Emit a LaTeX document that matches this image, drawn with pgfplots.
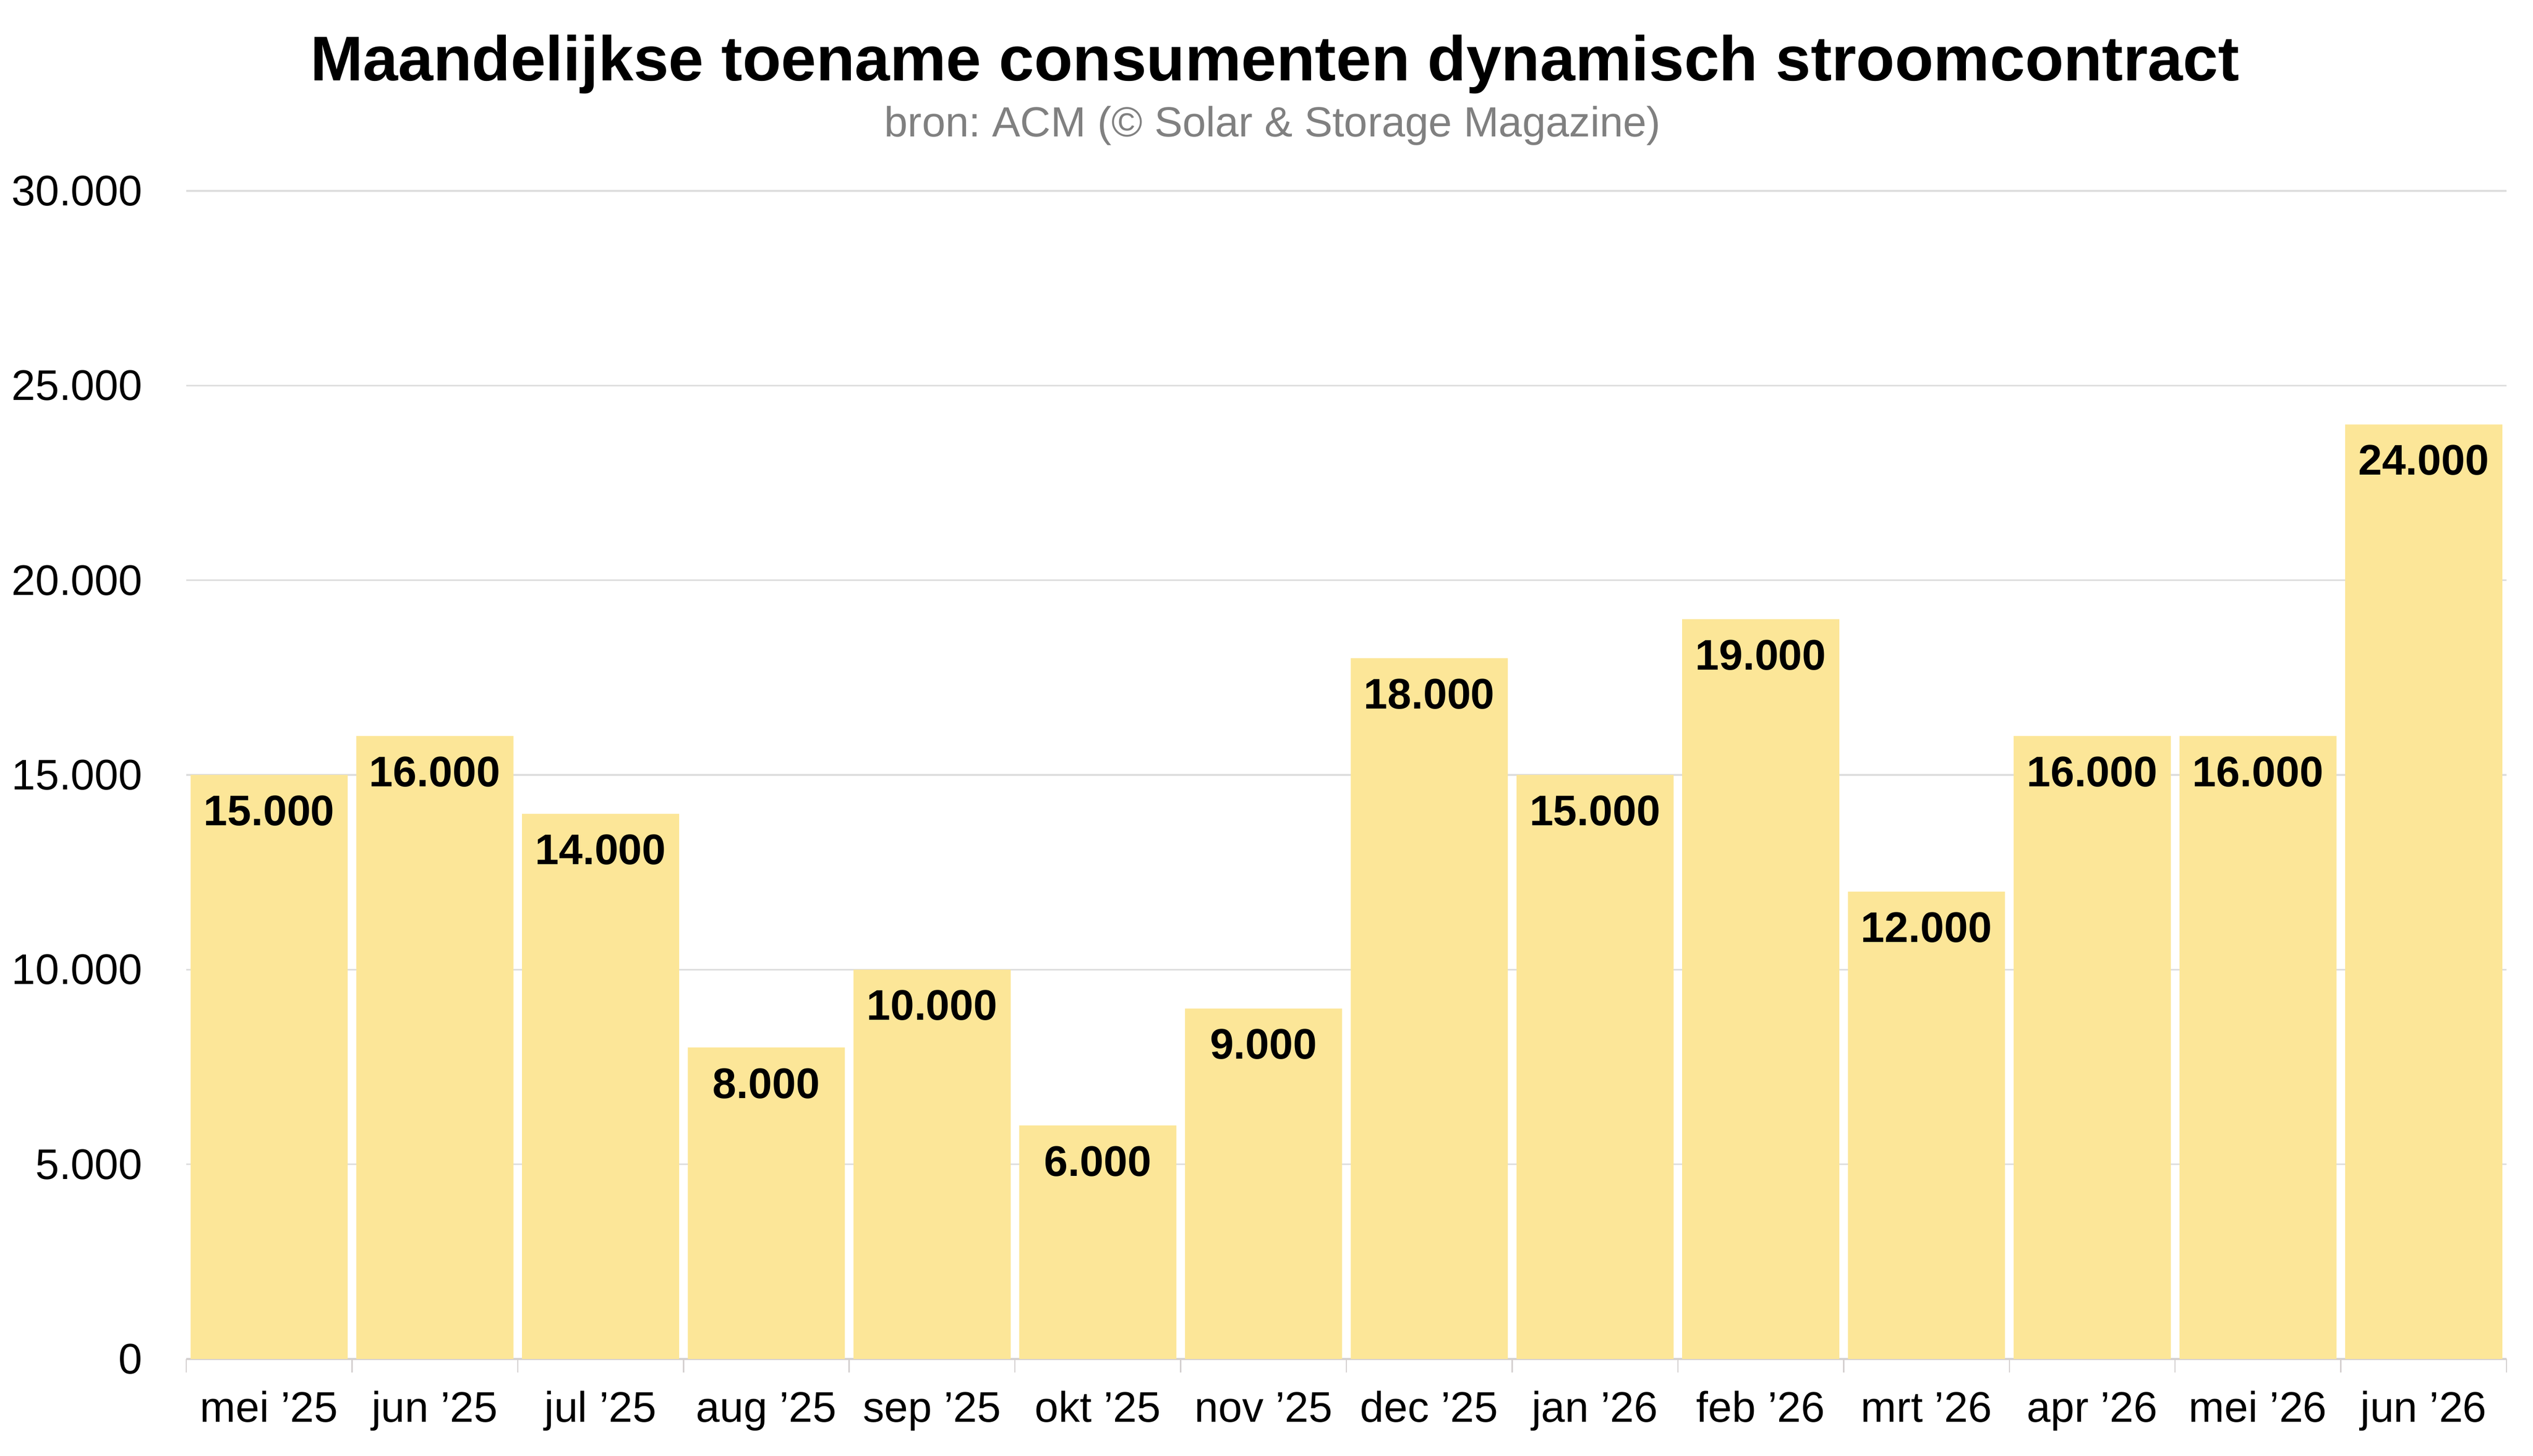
\documentclass[border=0pt]{standalone}
\usepackage{fontspec}
\setmainfont{Liberation Sans}
\usepackage{pgfplots}
\pgfplotsset{compat=1.18}
\frenchspacing
\definecolor{barfill}{RGB}{252,230,152}
\definecolor{gridc}{RGB}{222,222,222}
\definecolor{axisc}{RGB}{212,208,208}
\definecolor{subc}{RGB}{128,128,128}
\begin{document}
\begin{tikzpicture}
\useasboundingbox (-57.44pt,-29.92pt) rectangle (723.68pt,419.2pt);
\begin{axis}[
  at={(0,0)}, anchor=south west,
  scale only axis, width=715.52pt, height=360.32pt,
  ybar, bar width=0.948,
  xmin=-0.5, xmax=13.5, ymin=0, ymax=30000,
  xtick={0,...,13},
  xticklabels={mei ’25,jun ’25,jul ’25,aug ’25,sep ’25,okt ’25,nov ’25,dec ’25,jan ’26,feb ’26,mrt ’26,apr ’26,mei ’26,jun ’26},
  minor xtick={-0.5,0.5,...,13.5},
  ytick={0,5000,10000,15000,20000,25000,30000},
  scaled y ticks=false,
  /pgf/number format/1000 sep={.},
  /pgf/number format/assume math mode=true,
  axis x line*=bottom, axis y line*=left,
  y axis line style={draw=none},
  x axis line style={axisc, line width=0.5pt},
  tick align=outside,
  major tick length=0pt,
  minor tick length=4.2pt,
  minor tick style={axisc, line width=0.4pt},
  ymajorgrids, grid style={gridc, line width=0.5pt},
  yticklabel style={font=\fontsize{13.2}{15}\selectfont, anchor=east, inner sep=0pt, xshift=-13.3pt},
  xticklabel style={font=\fontsize{13.2}{15}\selectfont, anchor=base, inner sep=0pt, yshift=-19.5pt},
  nodes near coords,
  every node near coord/.append style={font=\bfseries\fontsize{13.2}{15}\selectfont, anchor=north, inner sep=0pt, yshift=-6.2pt, text=black},
]
\addplot[fill=barfill, draw=none] coordinates {
  (0,15000) (1,16000) (2,14000) (3,8000) (4,10000) (5,6000) (6,9000)
  (7,18000) (8,15000) (9,19000) (10,12000) (11,16000) (12,16000) (13,24000)
};
\end{axis}
\node[anchor=base, font=\bfseries\fontsize{19.5}{23}\selectfont] at (335.7pt,394.24pt) {Maandelijkse toename consumenten dynamisch stroomcontract};
\node[anchor=base, text=subc, font=\fontsize{13}{16}\selectfont] at (335pt,376.96pt) {bron: ACM (© Solar \& Storage Magazine)};
\end{tikzpicture}
\end{document}
